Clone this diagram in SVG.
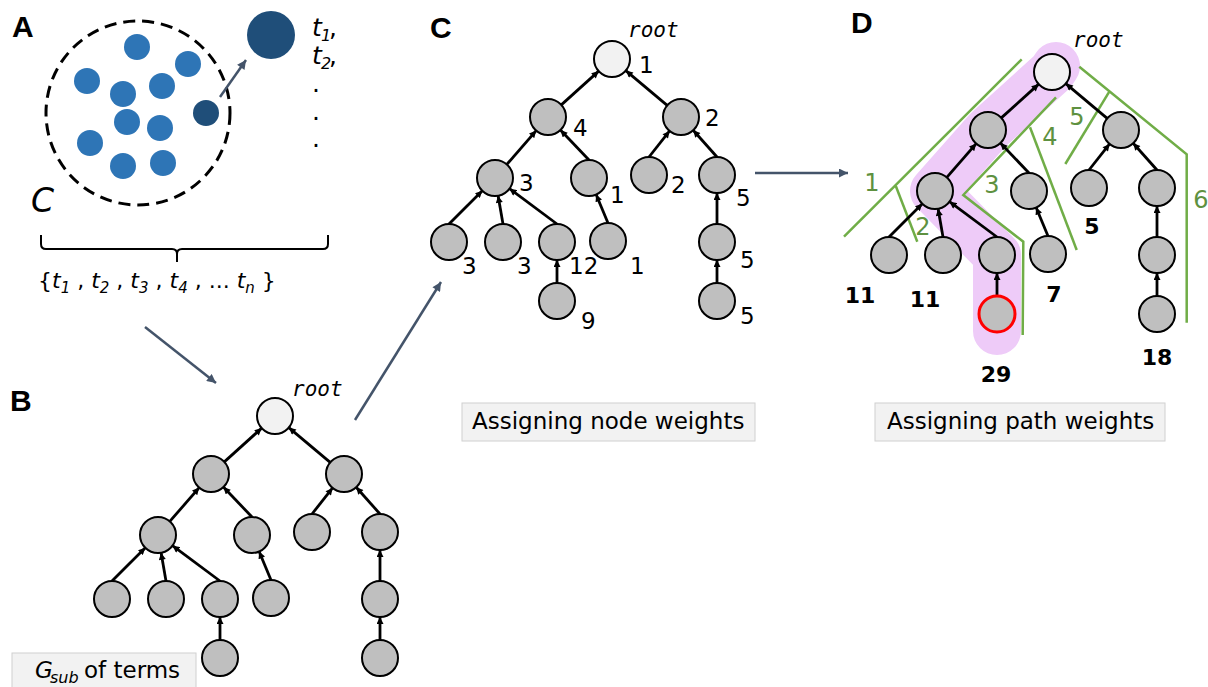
<svg xmlns="http://www.w3.org/2000/svg" xmlns:xlink="http://www.w3.org/1999/xlink" width="1208" height="687" viewBox="0 0 1208 687">
  <style>
    .panel { font-family: "Liberation Sans", Arial, sans-serif; font-weight: bold; font-size: 30px; fill: #000; }
    .txt { font-family: "DejaVu Sans", sans-serif; fill: #000; }
    .it { font-style: italic; }
    .rootlbl { font-family: "DejaVu Sans Mono", monospace; font-style: italic; font-size: 21px; fill: #000; }
    .num { font-family: "DejaVu Sans", sans-serif; font-size: 23px; fill: #000; }
    .bnum { font-family: "DejaVu Sans", sans-serif; font-weight: bold; font-size: 22px; fill: #000; text-anchor: middle; }
    .gnum { font-family: "DejaVu Sans", sans-serif; font-size: 24px; fill: #5e9140; text-anchor: middle; dominant-baseline: central; }
    .n { fill: #bfbfbf; stroke: #000; stroke-width: 2; }
    .r { fill: #f2f2f2; stroke: #000; stroke-width: 2; }
    .sel { fill: #bfbfbf; stroke: #ff0000; stroke-width: 3; }
    .e { stroke: #000; stroke-width: 2.8; fill: none; marker-end: url(#ah); }
    .flow { stroke: #44546a; stroke-width: 2.5; fill: none; marker-end: url(#fh); }
    .g { stroke: #70ad47; stroke-width: 2.5; fill: none; }
    .dot { fill: #2e75b6; }
    .dark { fill: #1f4e79; }
    .box { fill: #f2f2f2; stroke: #d0d0d0; stroke-width: 1; }
  </style>
  <defs>
    <marker id="ah" viewBox="0 0 10 10" refX="10" refY="5" markerWidth="8" markerHeight="7" markerUnits="userSpaceOnUse" orient="auto">
      <path d="M0,0 L10,5 L0,10 z" fill="#000"/>
    </marker>
    <marker id="fh" viewBox="0 0 10 10" refX="10" refY="5" markerWidth="10" markerHeight="9" markerUnits="userSpaceOnUse" orient="auto">
      <path d="M0,0 L10,5 L0,10 z" fill="#44546a"/>
    </marker>
    <!-- child-to-parent edges of the term tree, in panel B coordinates -->
    <g id="tree-edges">
      <line class="e" x1="224.3" y1="461.9" x2="261.7" y2="428.1"/>
      <line class="e" x1="330.2" y1="462.4" x2="288.8" y2="427.6"/>
      <line class="e" x1="169.8" y1="521.4" x2="199.2" y2="487.6"/>
      <line class="e" x1="252" y1="517" x2="223.4" y2="487"/>
      <line class="e" x1="312" y1="514" x2="332.6" y2="487.9"/>
      <line class="e" x1="380" y1="514" x2="356.2" y2="487.2"/>
      <line class="e" x1="112" y1="581" x2="145.3" y2="547.7"/>
      <line class="e" x1="166" y1="581" x2="161.1" y2="552.7"/>
      <line class="e" x1="220" y1="581" x2="172.5" y2="545.7"/>
      <line class="e" x1="271" y1="580" x2="259.1" y2="551.5"/>
      <line class="e" x1="380" y1="581" x2="380" y2="550"/>
      <line class="e" x1="220" y1="640" x2="220" y2="617"/>
      <line class="e" x1="380" y1="640" x2="380" y2="617"/>
    </g>
  </defs>

  <rect width="1208" height="687" fill="#ffffff"/>

  <!-- Panel A: cluster of terms -->
  <g id="panel-a">
    <text class="panel" x="12" y="37">A</text>
    <circle cx="138" cy="113" r="92" fill="none" stroke="#000" stroke-width="3" stroke-dasharray="12 7"/>
    <circle class="dot" cx="137" cy="47" r="13"/>
    <circle class="dot" cx="188" cy="64" r="13"/>
    <circle class="dot" cx="87" cy="81" r="13"/>
    <circle class="dot" cx="123" cy="94" r="13"/>
    <circle class="dot" cx="162" cy="86" r="13"/>
    <circle class="dot" cx="127" cy="122" r="13"/>
    <circle class="dot" cx="160" cy="128" r="13"/>
    <circle class="dot" cx="90" cy="143" r="13"/>
    <circle class="dot" cx="123" cy="166" r="13"/>
    <circle class="dot" cx="163" cy="163" r="13"/>
    <circle class="dark" cx="206" cy="113" r="13"/>
    <circle class="dark" cx="271" cy="35" r="24"/>
    <line class="flow" x1="220" y1="97" x2="246" y2="60"/>
    <text class="txt" font-size="25">
      <tspan class="it" x="312" y="36">t</tspan><tspan class="it" x="321" y="41" font-size="16">1</tspan><tspan x="329" y="36">,</tspan>
      <tspan class="it" x="312" y="64">t</tspan><tspan class="it" x="321" y="69" font-size="16">2</tspan><tspan x="329" y="64">,</tspan>
      <tspan x="312" y="92">.</tspan>
      <tspan x="312" y="120">.</tspan>
      <tspan x="312" y="147">.</tspan>
    </text>
    <text class="txt it" x="31" y="212" font-size="33">C</text>
    <path d="M41,235 L41,244 Q41,249 46,249 L172,249 Q177,249 177,254 L177,262 M177,254 Q177,249 182,249 L323,249 Q328,249 328,244 L328,235" fill="none" stroke="#000" stroke-width="2"/>
    <text class="txt" font-size="22" x="38" y="288">{<tspan class="it">t</tspan><tspan class="it" font-size="15" dy="5">1</tspan><tspan dy="-5"> , </tspan><tspan class="it">t</tspan><tspan class="it" font-size="15" dy="5">2</tspan><tspan dy="-5"> , </tspan><tspan class="it">t</tspan><tspan class="it" font-size="15" dy="5">3</tspan><tspan dy="-5"> , </tspan><tspan class="it">t</tspan><tspan class="it" font-size="15" dy="5">4</tspan><tspan dy="-5"> , ... </tspan><tspan class="it">t</tspan><tspan class="it" font-size="15" dy="5">n</tspan><tspan dy="-5"> }</tspan></text>
  </g>

  <!-- Panel labels and captions -->
  <text class="panel" x="10" y="411">B</text>
  <text class="panel" x="430" y="38">C</text>
  <text class="panel" x="851" y="33">D</text>

  <g id="caption-b">
    <rect class="box" x="12" y="653" width="184" height="40"/>
    <text class="txt" font-size="23"><tspan class="it" x="35" y="678">G</tspan><tspan class="it" x="50" y="683" font-size="16">sub</tspan><tspan x="84" y="678">of terms</tspan></text>
  </g>
  <g id="caption-c">
    <rect class="box" x="462" y="403" width="293" height="38"/>
    <text class="txt" font-size="23" x="472" y="429">Assigning node weights</text>
  </g>
  <g id="caption-d">
    <rect class="box" x="875" y="403" width="290" height="38"/>
    <text class="txt" font-size="23" x="887" y="429">Assigning path weights</text>
  </g>

  <!-- Panel D highlighted path and path partitions (drawn beneath the tree) -->
  <path id="highlight" d="M1056,66 L1052,72 L988,130 L934,191 L997,255 L997,331" fill="none" stroke="#eecbf8" stroke-width="48" stroke-linecap="round" stroke-linejoin="round"/>
  <g id="partitions">
    <polyline class="g" points="844,236.7 1021.7,59.3"/>
    <polyline class="g" points="895.7,185.7 917.3,241.7"/>
    <polyline class="g" points="1056,97.3 963.3,195 1023.3,241.7 1022.7,335"/>
    <polyline class="g" points="1030,127.3 1076.7,250"/>
    <polyline class="g" points="1079.3,66.7 1186.7,154.3 1186.7,322.7"/>
    <polyline class="g" points="1109.3,91.7 1065.3,164"/>
    <text class="gnum" x="872" y="183">1</text>
    <text class="gnum" x="923" y="227">2</text>
    <text class="gnum" x="992" y="185">3</text>
    <text class="gnum" x="1050" y="137">4</text>
    <text class="gnum" x="1077" y="117">5</text>
    <text class="gnum" x="1201" y="200">6</text>
  </g>

  <!-- Connectors -->
  <g id="connectors">
    <line class="flow" x1="145" y1="327" x2="216" y2="383"/>
    <line class="flow" x1="355" y1="420" x2="441" y2="282"/>
    <line class="flow" x1="755" y1="173" x2="848" y2="173"/>
    <use href="#tree-edges" xlink:href="#tree-edges"/>
    <use href="#tree-edges" xlink:href="#tree-edges" transform="translate(337,-357)"/>
    <use href="#tree-edges" xlink:href="#tree-edges" transform="translate(777,-344)"/>
  </g>

  <!-- Panel B tree -->
  <g id="tree-b">
    <g id="b-root"><circle class="r" cx="275" cy="416" r="18"/><text class="rootlbl" x="292" y="396">root</text></g>
    <g id="b-a1"><circle class="n" cx="211" cy="474" r="18"/></g>
    <g id="b-a2"><circle class="n" cx="344" cy="474" r="18"/></g>
    <g id="b-b1"><circle class="n" cx="158" cy="535" r="18"/></g>
    <g id="b-b2"><circle class="n" cx="252" cy="535" r="18"/></g>
    <g id="b-b3"><circle class="n" cx="312" cy="532" r="18"/></g>
    <g id="b-b4"><circle class="n" cx="380" cy="532" r="18"/></g>
    <g id="b-c1"><circle class="n" cx="112" cy="599" r="18"/></g>
    <g id="b-c2"><circle class="n" cx="166" cy="599" r="18"/></g>
    <g id="b-c3"><circle class="n" cx="220" cy="599" r="18"/></g>
    <g id="b-c4"><circle class="n" cx="271" cy="598" r="18"/></g>
    <g id="b-c5"><circle class="n" cx="380" cy="599" r="18"/></g>
    <g id="b-d1"><circle class="n" cx="220" cy="658" r="18"/></g>
    <g id="b-d2"><circle class="n" cx="380" cy="658" r="18"/></g>
  </g>

  <!-- Panel C tree with node weights -->
  <g id="tree-c">
    <g id="c-root"><circle class="r" cx="612" cy="59" r="18"/><text class="rootlbl" x="628" y="37">root</text><text class="num" x="639" y="73">1</text></g>
    <g id="c-a1"><circle class="n" cx="548" cy="117" r="18"/><text class="num" x="573" y="136">4</text></g>
    <g id="c-a2"><circle class="n" cx="681" cy="117" r="18"/><text class="num" x="705" y="126">2</text></g>
    <g id="c-b1"><circle class="n" cx="495" cy="178" r="18"/><text class="num" x="519" y="191">3</text></g>
    <g id="c-b2"><circle class="n" cx="589" cy="178" r="18"/><text class="num" x="610" y="203">1</text></g>
    <g id="c-b3"><circle class="n" cx="649" cy="175" r="18"/><text class="num" x="671" y="193">2</text></g>
    <g id="c-b4"><circle class="n" cx="717" cy="175" r="18"/><text class="num" x="736" y="206">5</text></g>
    <g id="c-c1"><circle class="n" cx="449" cy="242" r="18"/><text class="num" x="462" y="274">3</text></g>
    <g id="c-c2"><circle class="n" cx="503" cy="242" r="18"/><text class="num" x="517" y="274">3</text></g>
    <g id="c-c3"><circle class="n" cx="557" cy="242" r="18"/><text class="num" x="569" y="274">12</text></g>
    <g id="c-c4"><circle class="n" cx="608" cy="241" r="18"/><text class="num" x="630" y="274">1</text></g>
    <g id="c-c5"><circle class="n" cx="717" cy="242" r="18"/><text class="num" x="740" y="268">5</text></g>
    <g id="c-d1"><circle class="n" cx="557" cy="301" r="18"/><text class="num" x="581" y="329">9</text></g>
    <g id="c-d2"><circle class="n" cx="717" cy="301" r="18"/><text class="num" x="740" y="324">5</text></g>
  </g>

  <!-- Panel D tree with path weights -->
  <g id="tree-d">
    <g id="d-root"><circle class="r" cx="1052" cy="72" r="18"/><text class="rootlbl" x="1073" y="47">root</text></g>
    <g id="d-a1"><circle class="n" cx="988" cy="130" r="18"/></g>
    <g id="d-a2"><circle class="n" cx="1121" cy="130" r="18"/></g>
    <g id="d-b1"><circle class="n" cx="935" cy="191" r="18"/></g>
    <g id="d-b2"><circle class="n" cx="1029" cy="191" r="18"/></g>
    <g id="d-b3"><circle class="n" cx="1089" cy="188" r="18"/></g>
    <g id="d-b4"><circle class="n" cx="1157" cy="188" r="18"/></g>
    <g id="d-c1"><circle class="n" cx="889" cy="255" r="18"/><text class="bnum" x="860" y="303">11</text></g>
    <g id="d-c2"><circle class="n" cx="943" cy="255" r="18"/><text class="bnum" x="925" y="307">11</text></g>
    <g id="d-c3"><circle class="n" cx="997" cy="255" r="18"/></g>
    <g id="d-c4"><circle class="n" cx="1048" cy="254" r="18"/><text class="bnum" x="1054" y="302">7</text></g>
    <text class="bnum" x="1092" y="234">5</text>
    <g id="d-c5"><circle class="n" cx="1157" cy="255" r="18"/></g>
    <g id="d-d1"><circle class="sel" cx="997" cy="314" r="18"/><text class="bnum" x="996" y="382">29</text></g>
    <g id="d-d2"><circle class="n" cx="1157" cy="314" r="18"/><text class="bnum" x="1157" y="365">18</text></g>
  </g>
</svg>
